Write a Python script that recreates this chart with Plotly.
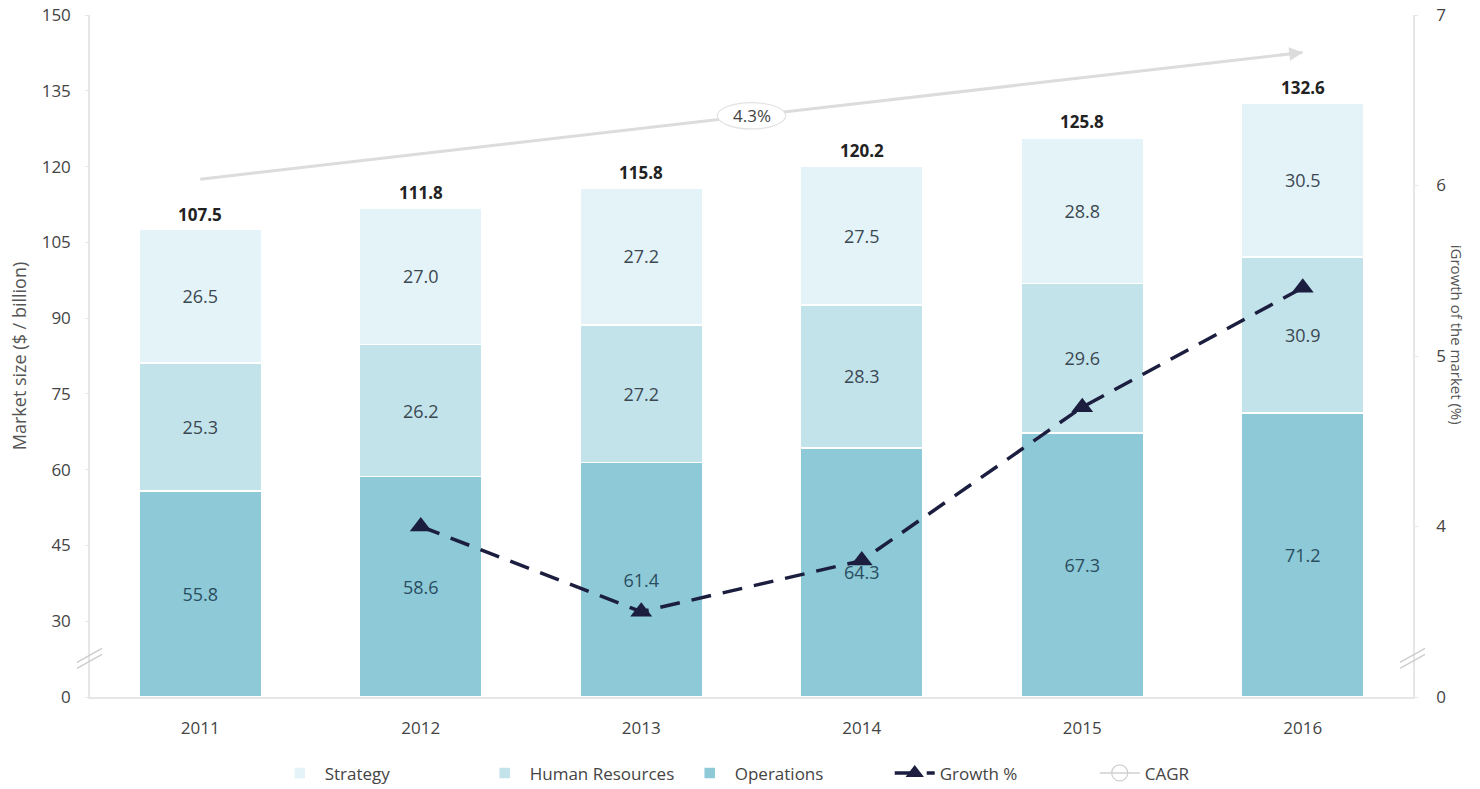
import plotly.graph_objects as go

# ---- data ----
years = ["2011", "2012", "2013", "2014", "2015", "2016"]
operations = [55.8, 58.6, 61.4, 64.3, 67.3, 71.2]
human_resources = [25.3, 26.2, 27.2, 28.3, 29.6, 30.9]
strategy = [26.5, 27.0, 27.2, 27.5, 28.8, 30.5]
totals = [107.5, 111.8, 115.8, 120.2, 125.8, 132.6]
growth = [None, 4.0, 3.5, 3.8, 4.7, 5.4]

left_ticks = [0, 30, 45, 60, 75, 90, 105, 120, 135, 150]
right_ticks = [0, 4, 5, 6, 7]

# ---- broken-axis helpers ----
# Left axis: the 0..30 stretch is squeezed into one 15-unit step.
LEFT_CUT = 30
LEFT_SHIFT = 15


def left_pos(v):
    if v >= LEFT_CUT:
        return v - LEFT_SHIFT
    return v * (LEFT_CUT - LEFT_SHIFT) / LEFT_CUT


# Right axis: the 0..3 stretch is hidden behind the break below the "4" tick.
RIGHT_SHIFT = 3


def right_pos(v):
    if v is None:
        return None
    if v >= RIGHT_SHIFT:
        return v - RIGHT_SHIFT
    return 0.0


FONT = "Open Sans"
C_STRAT = "#e4f3f8"
C_HR = "#c3e3eb"
C_OPS = "#8dc9d7"
C_GROWTH = "#1b1e3f"
C_CAGR = "#dcdcdc"
C_AXIS = "#e6e6e6"
C_TEXT = "#555555"
C_TICK = "#444444"

idx = list(range(len(years)))  # category positions for annotations/shapes

fig = go.Figure()

# Operations sits across the axis break, so its drawn height uses the break mapping;
# the segments stacked above it are in the linear part of the axis.
fig.add_trace(go.Bar(
    x=years, y=[left_pos(v) for v in operations], name="Operations",
    marker=dict(color=C_OPS, line=dict(color="white", width=1.5)),
    text=[f"{v:.1f}" for v in operations], textposition="inside",
    insidetextanchor="middle", textfont=dict(family=FONT, size=18, color="#2a4d60"),
    legendrank=3, hoverinfo="skip",
))
fig.add_trace(go.Bar(
    x=years, y=human_resources, name="Human Resources",
    marker=dict(color=C_HR, line=dict(color="white", width=1.5)),
    text=[f"{v:.1f}" for v in human_resources], textposition="inside",
    insidetextanchor="middle", textfont=dict(family=FONT, size=18, color="#3b4852"),
    legendrank=2, hoverinfo="skip",
))
fig.add_trace(go.Bar(
    x=years, y=strategy, name="Strategy",
    marker=dict(color=C_STRAT, line=dict(color="white", width=1.5)),
    text=[f"{v:.1f}" for v in strategy], textposition="inside",
    insidetextanchor="middle", textfont=dict(family=FONT, size=18, color="#3b4852"),
    legendrank=1, hoverinfo="skip",
))

# Growth line on the secondary axis
fig.add_trace(go.Scatter(
    x=years, y=[right_pos(v) for v in growth], name="Growth %", yaxis="y2",
    mode="lines+markers",
    line=dict(color=C_GROWTH, width=3.5, dash="20px,12px"),
    marker=dict(symbol="triangle-up", size=19, color=C_GROWTH),
    legendrank=4, hoverinfo="skip",
))

# CAGR legend entry
fig.add_trace(go.Scatter(
    x=[None], y=[None], name="CAGR", mode="lines+markers",
    line=dict(color=C_CAGR, width=2),
    marker=dict(symbol="circle-open", size=20, color="#cfcfcf", line=dict(width=1.2)),
    legendrank=5, hoverinfo="skip",
))

annotations = []
shapes = []

# Totals above each bar
for i, t in zip(idx, totals):
    annotations.append(dict(
        x=i, y=left_pos(t), xref="x", yref="y", text=f"<b>{t:.1f}</b>",
        showarrow=False, yanchor="bottom", yshift=2,
        font=dict(family=FONT, size=17, color="#222222"),
    ))

# CAGR arrow from the first to the last year
cagr = (totals[-1] / totals[0]) ** (1 / (len(totals) - 1)) - 1
arrow_lift = 10
y_start = left_pos(totals[0]) + arrow_lift
y_end = left_pos(totals[-1]) + arrow_lift
y_mid = (y_start + y_end) / 2
x_mid = (idx[0] + idx[-1]) / 2

shapes.append(dict(
    type="line", xref="x", yref="y", x0=idx[0], x1=idx[-1],
    y0=y_start, y1=y_end, line=dict(color=C_CAGR, width=3), layer="above",
))
shapes.append(dict(
    type="circle", xref="x", yref="y", x0=x_mid - 0.155, x1=x_mid + 0.155,
    y0=y_mid - 2.6, y1=y_mid + 2.6, fillcolor="white",
    line=dict(color="#e2e2e2", width=1.2), layer="above",
))
annotations.append(dict(
    x=idx[-1], y=y_end, xref="x", yref="y", text="", showarrow=True,
    ax=-24, ay=2.8, arrowhead=2, arrowsize=0.9, arrowwidth=3, arrowcolor=C_CAGR,
))
annotations.append(dict(
    x=x_mid, y=y_mid, xref="x", yref="y", text=f"{cagr * 100:.1f}%",
    showarrow=False, font=dict(family=FONT, size=17, color=C_TICK),
))

# Right axis title (reads top to bottom)
annotations.append(dict(
    x=1.0333, y=0.531, xref="paper", yref="paper", text="iGrowth of the market (%)",
    xanchor="center", yanchor="middle",
    textangle=90, showarrow=False, font=dict(family=FONT, size=15, color=C_TEXT),
))

# Axis-break marks
for xa in (0, 1):
    for off in (0, -6):
        shapes.append(dict(
            type="line", xref="paper", yref="y", xsizemode="pixel", ysizemode="pixel",
            xanchor=xa, yanchor=left_pos(16.5), x0=-13, x1=12, y0=-7 + off, y1=7 + off,
            line=dict(color="#cccccc", width=1.3), layer="above",
        ))

fig.update_layout(
    width=1480, height=789,
    margin=dict(l=90, r=67, t=15, b=92, autoexpand=False),
    paper_bgcolor="white", plot_bgcolor="white",
    barmode="stack", bargap=0.443,
    font=dict(family=FONT, size=16, color=C_TEXT),
    xaxis=dict(
        type="category", range=[-0.5, len(years) - 0.5], automargin=False,
        showline=True, linecolor=C_AXIS, linewidth=1.5,
        showgrid=False, ticks="", ticklabelstandoff=15,
        tickfont=dict(family=FONT, size=17, color=C_TICK),
    ),
    yaxis=dict(
        range=[0, left_pos(150)], automargin=False,
        tickvals=[left_pos(v) for v in left_ticks], ticktext=[str(v) for v in left_ticks],
        showline=True, linecolor=C_AXIS, linewidth=1.5, showgrid=False, zeroline=False,
        ticks="outside", ticklen=3, tickcolor=C_AXIS, ticklabelstandoff=11,
        tickfont=dict(family=FONT, size=17, color=C_TICK),
        title=dict(text="Market size ($ / billion)", standoff=10,
                   font=dict(family=FONT, size=18, color=C_TEXT)),
    ),
    yaxis2=dict(
        overlaying="y", side="right", automargin=False,
        range=[0, right_pos(7)],
        tickvals=[right_pos(v) for v in right_ticks], ticktext=[str(v) for v in right_ticks],
        showline=True, linecolor=C_AXIS, linewidth=1.5, showgrid=False, zeroline=False,
        ticks="outside", ticklen=3, tickcolor=C_AXIS, ticklabelstandoff=15,
        tickfont=dict(family=FONT, size=17, color=C_TICK),
    ),
    legend=dict(
        orientation="h", traceorder="normal",
        x=0.527, xanchor="center", y=-0.112, yanchor="middle",
        font=dict(family=FONT, size=17, color=C_TICK),
        entrywidth=150, itemwidth=40,
    ),
    annotations=annotations,
    shapes=shapes,
    showlegend=True,
)

fig.write_html("out.html")
